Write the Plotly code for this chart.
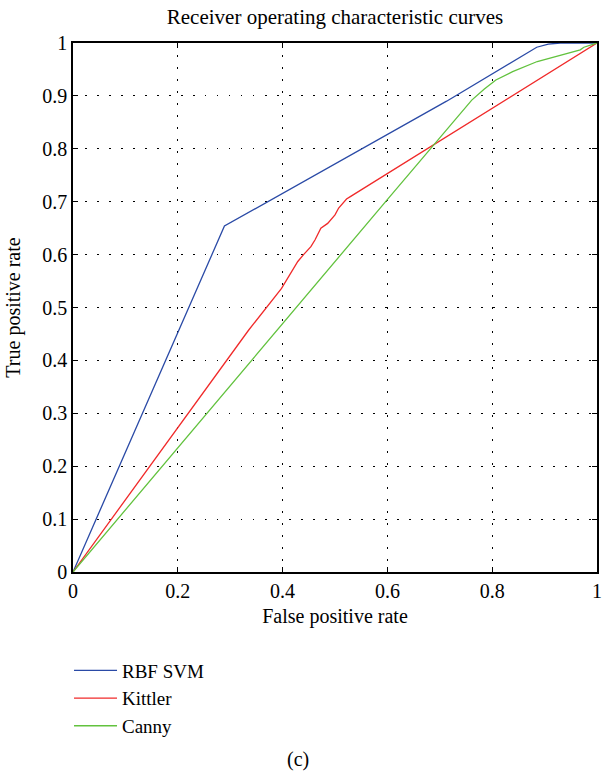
import plotly.graph_objects as go

# ROC curve points (false positive rate, true positive rate)
svm_fpr = [0.0, 0.289, 0.713, 0.885, 0.907, 0.93, 1.0]
svm_tpr = [0.0, 0.654, 0.890, 0.992, 0.998, 1.0, 1.0]

kittler_fpr = [0.0, 0.335, 0.398, 0.415, 0.429, 0.440, 0.454, 0.462, 0.470, 0.473,
               0.486, 0.493, 0.500, 0.507, 0.514, 0.522, 0.530, 0.60, 0.80, 1.0]
kittler_tpr = [0.0, 0.457, 0.536, 0.565, 0.587, 0.600, 0.615, 0.628, 0.642, 0.650,
               0.659, 0.668, 0.675, 0.688, 0.697, 0.705, 0.710, 0.753, 0.877, 1.0]

canny_fpr = [0.0, 0.335, 0.599, 0.761, 0.785, 0.807, 0.839, 0.886, 0.939, 0.968, 0.975, 1.0]
canny_tpr = [0.0, 0.394, 0.703, 0.892, 0.913, 0.930, 0.946, 0.965, 0.980, 0.987, 0.992, 1.0]

tick_vals = [0, 0.2, 0.4, 0.6, 0.8, 1]
tick_text = ["0", "0.2", "0.4", "0.6", "0.8", "1"]
ytick_vals = [0, 0.1, 0.2, 0.3, 0.4, 0.5, 0.6, 0.7, 0.8, 0.9, 1]
ytick_text = ["0", "0.1", "0.2", "0.3", "0.4", "0.5", "0.6", "0.7", "0.8", "0.9", "1"]

FONT = "Liberation Serif, Times New Roman, serif"

fig = go.Figure()
fig.add_trace(go.Scatter(x=svm_fpr, y=svm_tpr, mode="lines", name="RBF SVM",
                         line=dict(color="#2a4aa6", width=1.3)))
fig.add_trace(go.Scatter(x=kittler_fpr, y=kittler_tpr, mode="lines", name="Kittler",
                         line=dict(color="#f02a2a", width=1.3)))
fig.add_trace(go.Scatter(x=canny_fpr, y=canny_tpr, mode="lines", name="Canny",
                         line=dict(color="#62c23e", width=1.3)))

axis_common = dict(
    showline=True, linecolor="black", linewidth=1.5, mirror="ticks",
    ticks="inside", ticklen=5, tickcolor="black", tickwidth=1,
    showgrid=True, gridcolor="black", gridwidth=1, griddash="1.5px,10.5px",
    zeroline=False, tickfont=dict(family=FONT, size=20, color="black"),
)

fig.update_layout(
    width=608, height=776,
    margin=dict(l=73, r=6, t=43, b=204),
    paper_bgcolor="white", plot_bgcolor="white",
    font=dict(family=FONT, color="black", size=20),
    title=dict(text="Receiver operating characteristic curves", xref="paper", x=0.5,
               xanchor="center", y=0.978, yanchor="middle", font=dict(family=FONT, size=21)),
    xaxis=dict(range=[0, 1], tickvals=tick_vals, ticktext=tick_text,
               title=dict(text="False positive rate", font=dict(family=FONT, size=20), standoff=8),
               **axis_common),
    yaxis=dict(range=[0, 1], tickvals=ytick_vals, ticktext=ytick_text,
               title=dict(text="True positive rate", font=dict(family=FONT, size=20), standoff=16),
               **axis_common),
    legend=dict(x=-0.0076, xanchor="left", y=-0.1503, yanchor="top", itemwidth=43,
                font=dict(family=FONT, size=19, color="black"), bgcolor="rgba(0,0,0,0)",
                tracegroupgap=0),
    showlegend=True,
    annotations=[dict(text="(c)", xref="paper", yref="paper", x=0.429, y=-0.355,
                      xanchor="center", yanchor="middle", showarrow=False,
                      font=dict(family=FONT, size=20))],
)

fig.write_html("out.html")
